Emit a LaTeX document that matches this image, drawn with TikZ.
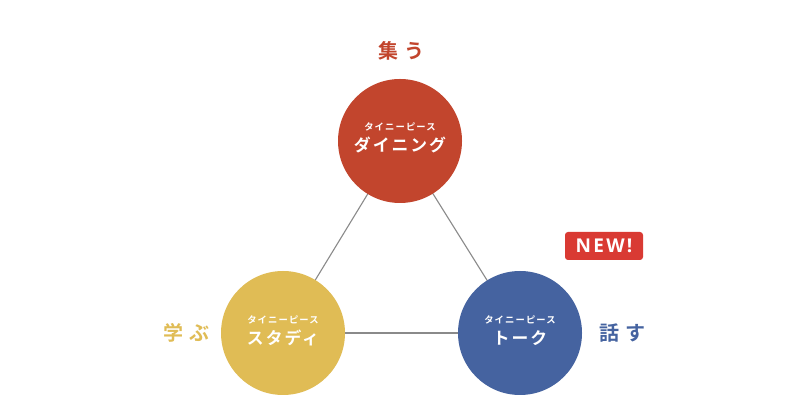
\documentclass[tikz,border=0pt]{standalone}
\usepackage{fontspec}
\newfontfamily\jp{Noto Sans CJK JP}[BoldFont={Noto Sans CJK JP Bold}]
\newfontfamily\jpsp{Noto Sans CJK JP}[BoldFont={Noto Sans CJK JP Bold},LetterSpace=12]
\newfontfamily\jpwide{Noto Sans CJK JP}[BoldFont={Noto Sans CJK JP Bold},LetterSpace=30]
\newfontfamily\badgefont{Open Sans}[LetterSpace=12]
\definecolor{cred}{HTML}{C2452D}
\definecolor{cyel}{HTML}{E0BC55}
\definecolor{cblue}{HTML}{4563A0}
\definecolor{cbadge}{HTML}{D93A33}
\definecolor{cline}{HTML}{8A8A8A}
\begin{document}
\begin{tikzpicture}[x=1pt,y=1pt,
  circ/.style={circle,minimum size=124pt,inner sep=0pt,fill=#1},
  link/.style={draw=cline,line width=1.1pt},
  sub/.style={text=white,font=\jpsp\bfseries\fontsize{9.3}{10}\selectfont},
  mainlbl/.style={text=white,font=\jpsp\bfseries\fontsize{16.8}{18}\selectfont},
  verb/.style={text=#1,font=\jpwide\bfseries\fontsize{20}{22}\selectfont}]
\useasboundingbox (0,0) rectangle (800,419);
\fill[white] (0,0) rectangle (800,419);
\coordinate (ct) at (400,278);
\coordinate (cl) at (283,86);
\coordinate (cr) at (520,86);
\draw[link] (ct) -- (cl);
\draw[link] (ct) -- (cr);
\draw[link] (cl) -- (cr);
\node[circ=cred] (dining) at (ct) {};
\node[circ=cyel] (study) at (cl) {};
\node[circ=cblue] (talk) at (cr) {};
\node[sub] (s1) at ([yshift=14]dining.center) {タイニーピース};
\node[mainlbl] (m1) at ([yshift=-4]dining.center) {ダイニング};
\node[sub] (s2) at ([yshift=13]study.center) {タイニーピース};
\node[mainlbl] (m2) at ([yshift=-5]study.center) {スタディ};
\node[sub] (s3) at ([yshift=13]talk.center) {タイニーピース};
\node[mainlbl] (m3) at ([yshift=-5]talk.center) {トーク};
\node[verb=cred] (v1) at (401,368) {集う};
\node[verb=cyel] (v2) at (186,86) {学ぶ};
\node[verb=cblue] (v3) at (622,86) {話す};
\node[fill=cbadge,rounded corners=3pt,minimum width=78pt,minimum height=28pt,inner sep=0pt,text=white,font=\badgefont\bfseries\fontsize{19}{20}\selectfont] (new) at (604,173) {NEW!};
\end{tikzpicture}
\end{document}
